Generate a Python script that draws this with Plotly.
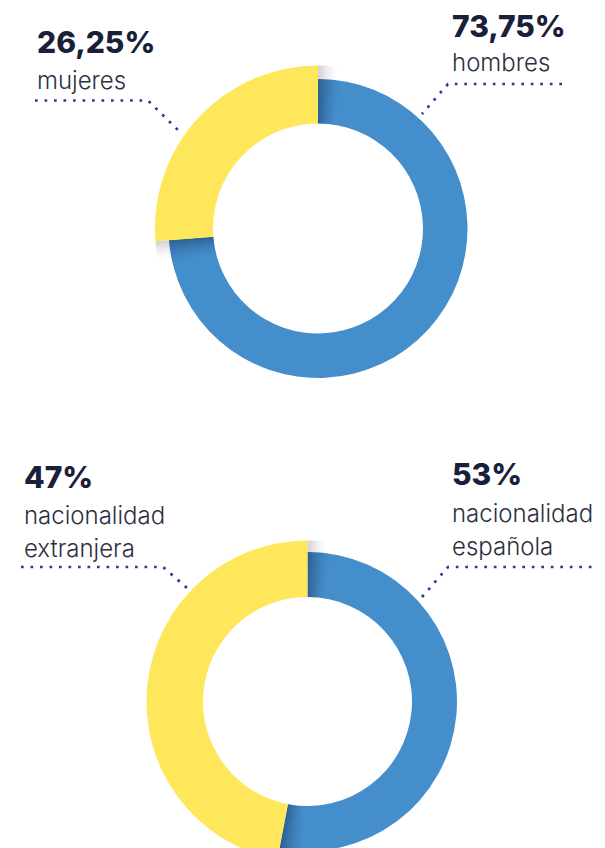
import plotly.graph_objects as go

# datos
genero_labels = ['hombres', 'mujeres']
genero_values = [73.75, 26.25]

nacionalidad_labels = ['nacionalidad<br>española', 'nacionalidad<br>extranjera']
nacionalidad_values = [53, 47]

W, H = 605, 870
OX, OY = 8, 8   # page body margin

BLUE = '#458ECC'
YELLOW = '#FFE75C'
DOTS = '#2E3B8E'
PCT_COLOR = '#19203A'
LBL_COLOR = '#2B2F3F'
CLEAR = 'rgba(0,0,0,0)'


def fx(x):
    return (x - OX) / W


def fy(y):
    return 1 - (y - OY) / H


def dom(cx, cy, r):
    # square pie domain in paper fraction from pixel centre/radius
    return dict(x=[fx(cx - r), fx(cx + r)], y=[fy(cy + r), fy(cy - r)])


def fmt(v):
    if float(v).is_integer():
        return f"{int(v)}%"
    return f"{v:.2f}".replace('.', ',') + '%'


def shadow(values, domain, hole, rgb, alpha, width_deg, steps=10):
    # soft gradient on both sides of the yellow slice
    a2 = values[0] / sum(values) * 360
    w = width_deg / steps
    vals, cols = [], []
    for i in range(steps):
        vals.append(w)
        cols.append(f'rgba({rgb},{alpha * (1 - i / steps) ** 1.5:.3f})')
    vals.append(a2 - 2 * width_deg)
    cols.append(CLEAR)
    for i in range(steps):
        vals.append(w)
        cols.append(f'rgba({rgb},{alpha * ((i + 1) / steps) ** 1.5:.3f})')
    vals.append(360 - a2)
    cols.append(CLEAR)
    return go.Pie(values=vals, sort=False, direction='clockwise', rotation=0,
                  marker=dict(colors=cols, line=dict(width=0)),
                  hole=hole, domain=domain, textinfo='none',
                  hoverinfo='skip', showlegend=False)


def add_donut(fig, labels, values, cx, cy, r_blue, r_yellow, r_hole):
    fig.add_trace(go.Pie(
        labels=labels, values=values, sort=False,
        direction='clockwise', rotation=0,
        marker=dict(colors=[BLUE, CLEAR], line=dict(width=0)),
        hole=r_hole / r_blue, domain=dom(cx, cy, r_blue),
        textinfo='none', hoverinfo='label+percent', showlegend=False))
    # dark shade on the blue ring next to the yellow slice
    fig.add_trace(shadow(values, dom(cx, cy, r_blue), r_hole / r_blue,
                         '10,30,60', 0.38, 9))
    # grey drop shadow outside the blue ring
    fig.add_trace(shadow(values, dom(cx, cy, r_yellow), r_blue / r_yellow,
                         '60,60,70', 0.22, 7))
    fig.add_trace(go.Pie(
        labels=labels, values=values, sort=False,
        direction='clockwise', rotation=0,
        marker=dict(colors=[CLEAR, YELLOW], line=dict(width=0)),
        hole=r_hole / r_yellow, domain=dom(cx, cy, r_yellow),
        textinfo='none', hoverinfo='label+percent', showlegend=False))


def leader(points):
    path = 'M ' + ' L '.join(f"{fx(x):.5f},{fy(y):.5f}" for x, y in points)
    return dict(type='path', xref='paper', yref='paper', path=path,
                line=dict(color=DOTS, width=2.7, dash='2.7px,6.8px'))


def label(fig, x, y_pct, y_lbl, value, text):
    fig.add_annotation(x=fx(x), y=fy(y_pct), xref='paper', yref='paper',
                       xanchor='left', yanchor='middle', showarrow=False,
                       text=fmt(value), align='left',
                       font=dict(family='Inter', size=30, weight=800, color=PCT_COLOR))
    for i, line in enumerate(text.split('<br>')):
        fig.add_annotation(x=fx(x), y=fy(y_lbl + i * 33), xref='paper', yref='paper',
                           xanchor='left', yanchor='top', showarrow=False,
                           text=line, align='left',
                           font=dict(family='Inter', size=24, weight=300, color=LBL_COLOR))


fig = go.Figure()

add_donut(fig, genero_labels, genero_values, 318, 228.5, 149.5, 163, 105)
add_donut(fig, nacionalidad_labels, nacionalidad_values, 307.5, 701.5, 149.5, 161, 104.5)

label(fig, 450, 26, 46, genero_values[0], genero_labels[0])
label(fig, 35, 42, 64, genero_values[1], genero_labels[1])
label(fig, 450, 474, 497, nacionalidad_values[0], nacionalidad_labels[0])
label(fig, 22, 477, 499, nacionalidad_values[1], nacionalidad_labels[1])

fig.update_layout(
    width=W, height=H,
    margin=dict(l=0, r=0, t=0, b=0),
    paper_bgcolor='white', plot_bgcolor='white',
    shapes=[
        leader([(35, 100.5), (148, 100.5), (180, 132)]),
        leader([(562, 84), (448, 84), (422, 114)]),
        leader([(21, 567), (163, 567), (187, 588)]),
        leader([(620, 567), (448, 567), (422, 597)]),
    ],
)

fig.write_html("out.html")
